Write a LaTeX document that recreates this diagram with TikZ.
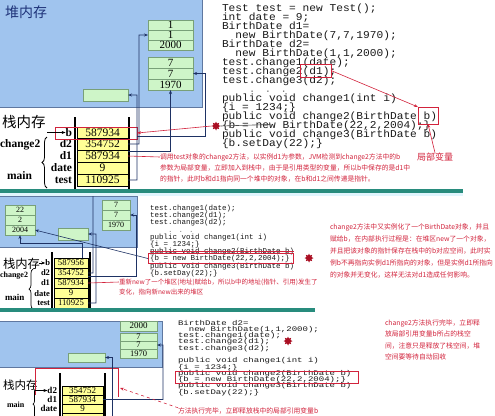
\documentclass[tikz,border=0pt]{standalone}
\usepackage{fontspec}
\setmainfont{Liberation Serif}
\newfontfamily\cjk{Noto Sans CJK SC}
\newfontfamily\codefont[FakeStretch=1.067]{Liberation Mono}
\newfontfamily\codemid{Liberation Mono}
\newfontfamily\codewide[FakeStretch=1.29]{Liberation Mono}
\usetikzlibrary{arrows.meta,decorations.pathreplacing,shapes.geometric}
\definecolor{heapblue}{RGB}{160,196,238}
\definecolor{heapedge}{RGB}{95,120,160}
\definecolor{objgreen}{RGB}{206,245,200}
\definecolor{objedge}{RGB}{120,160,120}
\definecolor{stackyel}{RGB}{255,255,150}
\definecolor{navy}{RGB}{30,50,100}
\definecolor{annred}{RGB}{210,35,60}
\definecolor{markred}{RGB}{170,15,35}
\definecolor{tealbar}{RGB}{40,140,125}
\definecolor{codegray}{RGB}{25,25,25}
\definecolor{labblue}{RGB}{30,50,120}
\newcommand\fs[1]{\fontsize{#1bp}{#1bp}\selectfont}
\begin{document}
\begin{tikzpicture}[x=1bp,y=-1bp,
  every node/.style={inner sep=0pt,outer sep=0pt},
  heap/.style={fill=heapblue,draw=heapedge,line width=1bp},
  obj/.style={draw=objedge,fill=objgreen,anchor=north west,line width=0.5bp},
  stk/.style={draw=black,fill=stackyel,anchor=north west,line width=0.5bp},
  rail/.style={line width=1.3bp},
  lab/.style={anchor=east,font=\bfseries\fs{11.5}},
  labs/.style={anchor=east,font=\bfseries\fs{8.5}},
  ptr/.style={draw=navy,line width=0.6bp,-{Stealth[length=4bp,width=3bp]}},
  redbox/.style={draw=annred,line width=0.7bp,anchor=north west},
  rtxt/.style={anchor=west,text=annred,font=\cjk\fs{6.8}},
  codeA/.style={anchor=base west,text=codegray,font=\codefont\fs{10.5},text height=6.8bp,text depth=1.6bp},
  codeB/.style={anchor=base west,text=codegray,font=\codemid\fs{7.5},text height=5bp,text depth=1.3bp},
  codeC/.style={anchor=base west,text=codegray,font=\codewide\fs{7},text height=4.5bp,text depth=1.2bp},
  redmark/.style={star,star points=8,star point ratio=1.7,fill=markred,minimum size=9bp},
  tealband/.style={fill=tealbar},
  blk/.style={line width=0.6bp,-{Stealth[length=4bp,width=3bp]}},
]
\useasboundingbox (0,0) rectangle (495,415);
\fill[white] (0,0) rectangle (495,415);

%================ PANEL 1 ================
\draw[heap] (-2,-2) rectangle (202,107);
\node[font=\cjk\fs{14},text=labblue,anchor=west] (heap1) at (5,12) {堆内存};
\node[obj,minimum width=45bp,minimum height=10bp,font=\fs{11}] (o1a) at (148,20) {1};
\node[obj,minimum width=45bp,minimum height=10bp,font=\fs{11}] (o1b) at (148,30) {1};
\node[obj,minimum width=45bp,minimum height=10bp,font=\fs{11}] (o1c) at (148,40) {2000};
\node[obj,minimum width=45bp,minimum height=11bp,font=\fs{11}] (o2a) at (148,57) {7};
\node[obj,minimum width=45bp,minimum height=11bp,font=\fs{11}] (o2b) at (148,68) {7};
\node[obj,minimum width=45bp,minimum height=11bp,font=\fs{11}] (o2c) at (148,79) {1970};
\node[obj,minimum width=45bp,minimum height=12bp] (t1) at (83,89) {};

\node[font=\cjk\fs{14.5},anchor=west] (stk1) at (2,122) {栈内存};
\draw[rail] (75,117) -- (75,190);
\draw[rail] (129,117) -- (129,190);
\node[stk,minimum width=51bp,minimum height=11bp,font=\fs{11.5}] (s1b) at (77,127) {587934};
\node[stk,minimum width=51bp,minimum height=12bp,font=\fs{11.5}] (s1d2) at (77,138) {354752};
\node[stk,minimum width=51bp,minimum height=12bp,font=\fs{11.5}] (s1d1) at (77,150) {587934};
\node[stk,minimum width=51bp,minimum height=12bp,font=\fs{11.5}] (s1date) at (77,162) {9};
\node[stk,minimum width=51bp,minimum height=12bp,font=\fs{11.5}] (s1test) at (77,174) {110925};
\node[lab] (lb1) at (72,132.5) {b};
\node[lab] (ld21) at (72,144) {d2};
\node[lab] (ld11) at (72,156) {d1};
\node[lab] (ldt1) at (72,168) {date};
\node[lab] (lt1) at (72,180) {test};
\node[font=\bfseries\fs{11.5},anchor=west] (ch1) at (0,145) {change2};
\node[font=\bfseries\fs{11.5},anchor=west] (mn1) at (7,176) {main};
\draw[line width=0.8bp,decorate,decoration={brace,amplitude=5bp}] (47,188) -- (47,137);
\node[redbox,minimum width=82bp,minimum height=12bp] (rb1) at (55,127) {};
\coordinate (ab1) at (47,132.5);
\draw[blk] (ab1) -- (lb1.west);

% pointers panel 1
\draw[ptr] (s1d2.east) -- (139,144) |- (o1b.west);
\draw[ptr] (s1test.east) -- (137,180) |- (t1.east);
\coordinate (b1o) at (137,136);
\draw[ptr] (b1o) -- (205,136) |- (o2b.east);
\coordinate (d1o) at (128,151.5);
\draw[ptr] (d1o) -| (o2c.south);

% code panel 1
\foreach \t [count=\i from 0] in {
 {Test test = new Test();},{int date = 9;},{BirthDate d1=},{\ \ new BirthDate(7,7,1970);},
 {BirthDate d2=},{\ \ new BirthDate(1,1,2000);},{test.change1(date);},{test.change2(d1);},
 {test.change3(d2);},{\textcolor{gray}{\ \ \ \ . . .}},{public void change1(int i)},{\{i = 1234;\}},
 {public void change2(BirthDate b)},{\{b = new BirthDate(22,2,2004);\}},
 {public void change3(BirthDate b)},{\{b.setDay(22);\}}}
 { \node[codeA] (pa\i) at (222,{11+9*\i}) {\t}; }
\node[redbox,minimum width=31bp,minimum height=13bp] (rbxA) at (300,64) {};
\node[redbox,minimum width=20bp,minimum height=17bp] (rbxB) at (418,107) {};
\draw[annred,line width=0.6bp,-{Stealth[length=4bp,width=3bp]}] (rbxA.east) -- (rbxB.north west);
\node[text=annred,font=\cjk\fs{9}] (jb) at (435,157) {局部变量};
\draw[annred,line width=0.6bp,-{Stealth[length=4bp,width=3bp]}] (jb.north) -- (rbxB.south);
\node[redmark] (mk1) at (216,126) {};
\coordinate (st1) at (270,124.5);
\draw[gray!60!black,line width=0.6bp] (mk1.east) -- (st1);
\draw[annred,line width=0.6bp,-{Stealth[length=4bp,width=3bp]}] (mk1.west) -- (rb1.east);

\node[rtxt] (rt1a) at (160,157) {调用test对象的change2方法，以实例d1为参数，JVM检测到change2方法中的b};
\node[rtxt] (rt1b) at (160,168) {参数为局部变量，立即加入到栈中，由于是引用类型的变量，所以b中保存的是d1中};
\node[rtxt] (rt1c) at (160,179) {的指针，此时b和d1指向同一个堆中的对象，在b和d1之间传递是指针。};
\draw[annred,line width=0.6bp] (s1d1.east) -- (rt1a.west);

\fill[tealband] (0,189) rectangle (463,193);

%================ PANEL 2 ================
\fill[cyan!12] (0,193) rectangle (463,196);
\draw[heap] (-2,196) rectangle (137,247);
\node[obj,minimum width=30bp,minimum height=10bp,font=\fs{8}] (n2a) at (5,205) {22};
\node[obj,minimum width=30bp,minimum height=10bp,font=\fs{8}] (n2b) at (5,215) {2};
\node[obj,minimum width=30bp,minimum height=10bp,font=\fs{8}] (n2c) at (5,225) {2004};
\node[obj,minimum width=28bp,minimum height=10bp,font=\fs{8}] (q2a) at (102,200) {7};
\node[obj,minimum width=28bp,minimum height=10bp,font=\fs{8}] (q2b) at (102,210) {7};
\node[obj,minimum width=28bp,minimum height=10bp,font=\fs{8}] (q2c) at (102,220) {1970};
\node[obj,minimum width=30bp,minimum height=12bp] (t2) at (58,228) {};

\node[font=\cjk\fs{12.3},anchor=west] (stk2) at (3,264) {栈内存};
\draw[rail] (52,252) -- (52,310);
\draw[rail] (90,252) -- (90,310);
\node[stk,minimum width=34bp,minimum height=10bp,font=\fs{8.7}] (s2b) at (54,258) {587956};
\node[stk,minimum width=34bp,minimum height=10bp,font=\fs{8.7}] (s2d2) at (54,268) {354752};
\node[stk,minimum width=34bp,minimum height=10bp,font=\fs{8.7}] (s2d1) at (54,278) {587934};
\node[stk,minimum width=34bp,minimum height=10bp,font=\fs{8.7}] (s2date) at (54,288) {9};
\node[stk,minimum width=34bp,minimum height=10bp,font=\fs{8.7}] (s2test) at (54,298) {110925};
\node[labs] (lb2) at (50,263) {b};
\node[labs] (ld22) at (50,273) {d2};
\node[labs] (ld12) at (50,283) {d1};
\node[labs] (ldt2) at (50,293.5) {date};
\node[labs] (lt2) at (50,303) {test};
\node[font=\bfseries\fs{8},anchor=west] (ch2) at (0,276) {change2};
\node[font=\bfseries\fs{9},anchor=west] (mn2) at (5,297) {main};
\draw[line width=0.7bp,decorate,decoration={brace,amplitude=4bp}] (33,309) -- (33,269);
\coordinate (ab2) at (39,263);
\draw[blk] (ab2) -- (lb2.west);

% pointers panel 2
\coordinate (d2top) at (93,196);
\draw[navy,line width=0.6bp] (s2d2.east) -- (93,273) -- (d2top);
\draw[ptr] (s2test.east) -- (96,303) |- (t2.east);
\coordinate (d1o2) at (88,276);
\draw[ptr] (d1o2) -- (136,276) |- (q2b.east);
\coordinate (bo2) at (82,258);
\draw[ptr] (bo2) -- (82,243) -| (n2c.south);

% code panel 2
\foreach \t [count=\i from 0] in {
 {test.change1(date);},{test.change2(d1);},{test.change3(d2);},{\textcolor{gray}{\ \ \ \ . . .}},
 {public void change1(int i)},{\{i = 1234;\}},{public void change2(BirthDate b)},
 {\{b = new BirthDate(22,2,2004);\}},{public void change3(BirthDate b)},{\{b.setDay(22);\}}}
 { \node[codeB] (pb\i) at (150,{210.4+7.2*\i}) {\t}; }
\draw[annred,line width=0.6bp] (pb6.west) -- (pb6.east);
\node[redbox,minimum width=145bp,minimum height=10bp] (rbx2) at (148,253.5) {};
\node[redmark] (mk2) at (309,258) {};
\draw[ptr] (rbx2.west) -- (n2c.east);

\node[rtxt,font=\cjk\fs{6.5}] (rt2a) at (119,282) {重新new了一个堆区(地址)赋给b，所以b中的地址(指针、引用)发生了};
\node[rtxt,font=\cjk\fs{6.5}] (rt2b) at (119,292) {变化，指向新new出来的堆区};
\draw[annred,line width=0.6bp] (s2d1.east) -- (rt2a.west);

\node[rtxt] (rt2c) at (330,227) {change2方法中又实例化了一个BirthDate对象，并且};
\node[rtxt] (rt2d) at (330,239) {赋给b，在内部执行过程是：在堆区new了一个对象，};
\node[rtxt] (rt2e) at (330,251) {并且把该对象的指针保存在栈中的b对应空间，此时实};
\node[rtxt] (rt2f) at (330,263) {例b不再指向实例d1所指向的对象，但是实例d1所指向};
\node[rtxt] (rt2g) at (330,275) {的对象并无变化，这样无法对d1造成任何影响。};

\fill[tealband] (0,308) rectangle (315,312);

%================ PANEL 3 ================
\draw[heap] (-2,321) rectangle (162,367);
\node[obj,minimum width=37bp,minimum height=10bp,font=\fs{9}] (o3top) at (120,321) {2000};
\node[obj,minimum width=37bp,minimum height=8bp,font=\fs{8.5}] (o3a) at (120,333) {7};
\node[obj,minimum width=37bp,minimum height=8bp,font=\fs{8.5}] (o3b) at (120,341) {7};
\node[obj,minimum width=37bp,minimum height=9bp,font=\fs{8.5}] (o3c) at (120,349) {1970};
\node[obj,minimum width=37bp,minimum height=9bp] (t3) at (68,353) {};

\node[font=\cjk\fs{11.5},anchor=west] (stk3) at (3,385) {栈内存};
\draw[rail] (60,373) -- (60,416);
\draw[rail] (105,373) -- (105,416);
\node[stk,minimum width=41bp,minimum height=9bp,font=\fs{9}] (s3d2) at (62,386) {354752};
\node[stk,minimum width=41bp,minimum height=9bp,font=\fs{9}] (s3d1) at (62,395) {587934};
\node[stk,minimum width=41bp,minimum height=9bp,font=\fs{9}] (s3date) at (62,404) {9};
\node[stk,minimum width=41bp,minimum height=9bp] (s3test) at (62,413) {};
\node[labs,font=\bfseries\fs{9}] (ld23) at (57,390.5) {d2};
\node[labs,font=\bfseries\fs{9}] (ld13) at (57,399.5) {d1};
\node[labs,font=\bfseries\fs{9}] (ldt3) at (57,408.5) {date};
\node[font=\bfseries\fs{8},anchor=west] (mn3) at (7,405) {main};
\draw[line width=0.7bp,decorate,decoration={brace,amplitude=3bp}] (36,420) -- (36,388);
\draw[annred,line width=0.7bp] (35,395) -- (35,368) -- (118,368) -- (118,397);
\coordinate (ab3) at (35,390.5);
\draw[blk] (ab3) -- (ld23.west);
\coordinate (rr3) at (120,388);

% pointers panel 3
\draw[ptr] (s3d1.east) -- (163,399.5) |- (o3b.east);
\coordinate (t3o) at (112,416);
\draw[ptr] (t3o) |- (t3.east);

% code panel 3
\node[codeC] (pcz) at (178,325.2) {BirthDate d2=};
\foreach \t [count=\i from 0] in {
 {\ \ new BirthDate(1,1,2000);},{test.change1(date);},{test.change2(d1);},{test.change3(d2);},{},
 {public void change1(int i)},{\{i = 1234;\}},{public void change2(BirthDate b)},
 {\{b = new BirthDate(22,2,2004);\}},{public void change3(BirthDate b)},{\{b.setDay(22);\}}}
 { \node[codeC] (pc\i) at (178,{331.2+6.3*\i}) {\t}; }
\node[redbox,minimum width=183bp,minimum height=12bp] (rbx3) at (175,371) {};
\node[redmark] (mk3) at (288,341) {};

\node[rtxt] (rt3a) at (385,323) {change2方法执行完毕，立即释};
\node[rtxt] (rt3b) at (385,334) {放局部引用变量b所占的栈空};
\node[rtxt] (rt3c) at (385,346) {间，注意只是释放了栈空间，堆};
\node[rtxt] (rt3d) at (385,357) {空间要等待自动回收};
\node[rtxt] (rt3e) at (178,411) {方法执行完毕，立即释放栈中的局部引用变量b};
\draw[annred,dashed,line width=0.6bp,-{Stealth[length=4bp,width=3bp]}] (rt3e.north west) -- (rr3);
\end{tikzpicture}
\end{document}
